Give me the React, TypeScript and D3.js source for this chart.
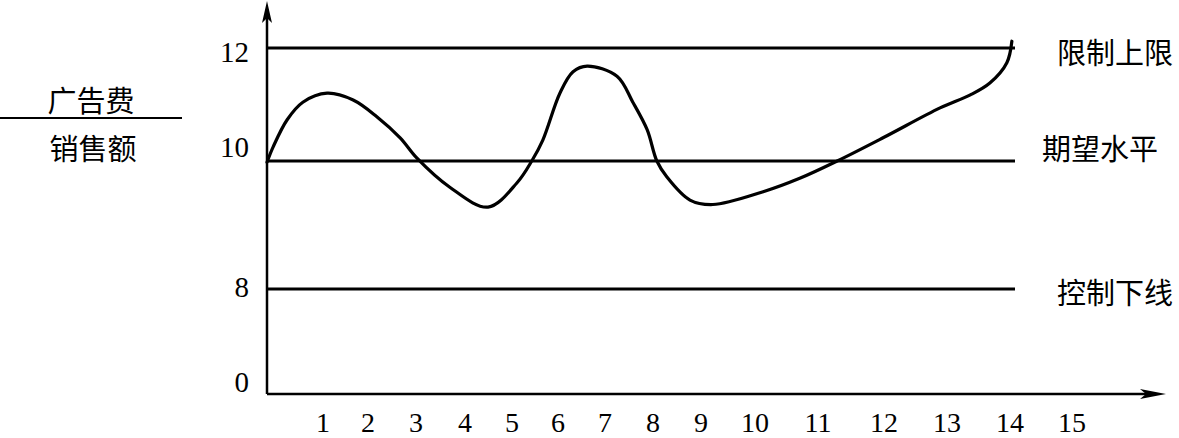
import React, { useEffect, useRef } from 'react';
import * as d3 from 'd3';

// periods on the x axis and level ticks on the y axis
const periods = [1, 2, 3, 4, 5, 6, 7, 8, 9, 10, 11, 12, 13, 14, 15];
const yTicks = [0, 8, 10, 12];

// reference levels
const levelNames = ['限制上限', '期望水平', '控制下线'];
const levelValues = [12, 10, 8];

// 广告费 / 销售额 curve
const curveX = [0, 0.11, 0.36, 0.64, 1.09, 1.67, 2.19, 2.67, 3.02, 3.69, 4.49, 5.11, 5.43, 5.67, 6.04, 6.32, 6.62,
    7.25, 7.58, 7.88, 8.08, 8.29, 8.77, 9.22, 10.13, 10.71, 11.29, 12.0, 12.89, 13.37, 13.68, 13.95, 14.03];
const curveY = [9.98, 10.25, 10.73, 11.04, 11.2, 11.08, 10.78, 10.41, 10.05, 9.59, 9.28, 9.66, 10, 10.37, 11.2, 11.58, 11.68,
    11.5, 11.04, 10.55, 10, 9.75, 9.39, 9.32, 9.52, 9.73, 10, 10.42, 10.94, 11.17, 11.38, 11.74, 12.12];

// layout: the hand drawn axes are not evenly spaced
const xTickPx = [267, 323, 368, 416, 465, 512, 558, 605, 653, 701, 755, 818, 884, 947, 1010, 1072];
const yTickPx = [394, 289, 161, 48];
const yLabelNudge: Record<number, number> = { 0: -12, 8: -2, 10: -14, 12: 4 };
const levelLabelNudge = [3, -14, 2];

const W = 1179;
const H = 438;
const numFont = '"Liberation Serif", "DejaVu Serif", serif';
const cjkFont = '"Noto Sans CJK SC", sans-serif';

const ControlChart: React.FC = () => {
    const ref = useRef<HTMLDivElement>(null);

    useEffect(() => {
        if (!ref.current) return;

        const svg = d3.select(ref.current)
            .append('svg')
            .attr('width', W)
            .attr('height', H)
            .style('display', 'block')
            .style('background', '#fff');

        const x = d3.scaleLinear().domain(d3.range(0, 16)).range(xTickPx);
        const y = d3.scaleLinear().domain(yTicks).range(yTickPx);

        const x0 = x(0);
        const y0 = y(0);

        // axes with arrows
        svg.append('line')
            .attr('x1', x0).attr('x2', x0)
            .attr('y1', y0).attr('y2', 14)
            .attr('stroke', '#000').attr('stroke-width', 2.5);
        svg.append('path')
            .attr('d', `M${x0},1 L${x0 - 5},23 L${x0},18 L${x0 + 5},23 Z`)
            .attr('fill', '#000');

        svg.append('line')
            .attr('x1', x0).attr('x2', 1152)
            .attr('y1', y0).attr('y2', y0)
            .attr('stroke', '#000').attr('stroke-width', 2.5);
        svg.append('path')
            .attr('d', `M1166,${y0} L1140,${y0 - 5} L1146,${y0} L1140,${y0 + 5} Z`)
            .attr('fill', '#000');

        // level lines
        const xEnd = x(14) + 5;
        svg.append('g')
            .selectAll('line')
            .data(levelValues)
            .enter()
            .append('line')
                .attr('x1', x0)
                .attr('x2', xEnd)
                .attr('y1', (d) => y(d))
                .attr('y2', (d) => y(d))
                .attr('stroke', '#000')
                .attr('stroke-width', 3);

        svg.append('g')
            .selectAll('text')
            .data(levelNames)
            .enter()
            .append('text')
                .attr('x', (d, i) => i === 1 ? 1042 : 1057)
                .attr('y', (d, i) => y(levelValues[i]) + levelLabelNudge[i])
                .attr('dominant-baseline', 'central')
                .style('font-family', cjkFont)
                .style('font-size', '29px')
                .text((d) => d);

        // y tick labels
        svg.append('g')
            .selectAll('text')
            .data(yTicks)
            .enter()
            .append('text')
                .attr('x', 249)
                .attr('y', (d) => y(d) + yLabelNudge[d])
                .attr('text-anchor', 'end')
                .attr('dominant-baseline', 'central')
                .style('font-family', numFont)
                .style('font-size', '29px')
                .text((d) => d);

        // x tick labels
        svg.append('g')
            .selectAll('text')
            .data(periods)
            .enter()
            .append('text')
                .attr('x', (d) => x(d))
                .attr('y', 432)
                .attr('text-anchor', 'middle')
                .style('font-family', numFont)
                .style('font-size', '28px')
                .text((d) => d);

        // the curve
        const pts = curveX.map((cx, i) => [cx, curveY[i]] as [number, number]);
        const line = d3.line<[number, number]>()
            .x((d) => x(d[0]))
            .y((d) => y(d[1]))
            .curve(d3.curveCatmullRom.alpha(0.5));
        svg.append('path')
            .attr('d', line(pts))
            .attr('fill', 'none')
            .attr('stroke', '#000')
            .attr('stroke-width', 3.2)
            .attr('stroke-linecap', 'round');

        // y axis title as a fraction
        const title = svg.append('g').style('font-family', cjkFont).style('font-size', '29px');
        title.append('text')
            .attr('x', 91).attr('y', 99)
            .attr('text-anchor', 'middle')
            .attr('dominant-baseline', 'central')
            .text('广告费');
        title.append('line')
            .attr('x1', 0).attr('x2', 182)
            .attr('y1', 118).attr('y2', 118)
            .attr('stroke', '#000').attr('stroke-width', 2);
        title.append('text')
            .attr('x', 93).attr('y', 147)
            .attr('text-anchor', 'middle')
            .attr('dominant-baseline', 'central')
            .text('销售额');

        return () => {
            svg.remove();
        };
    }, []);

    return (
        <div ref={ref} style={{ position: 'absolute', left: 0, top: 0 }}></div>
    );
};

export default function App() {
    return <ControlChart />;
}
